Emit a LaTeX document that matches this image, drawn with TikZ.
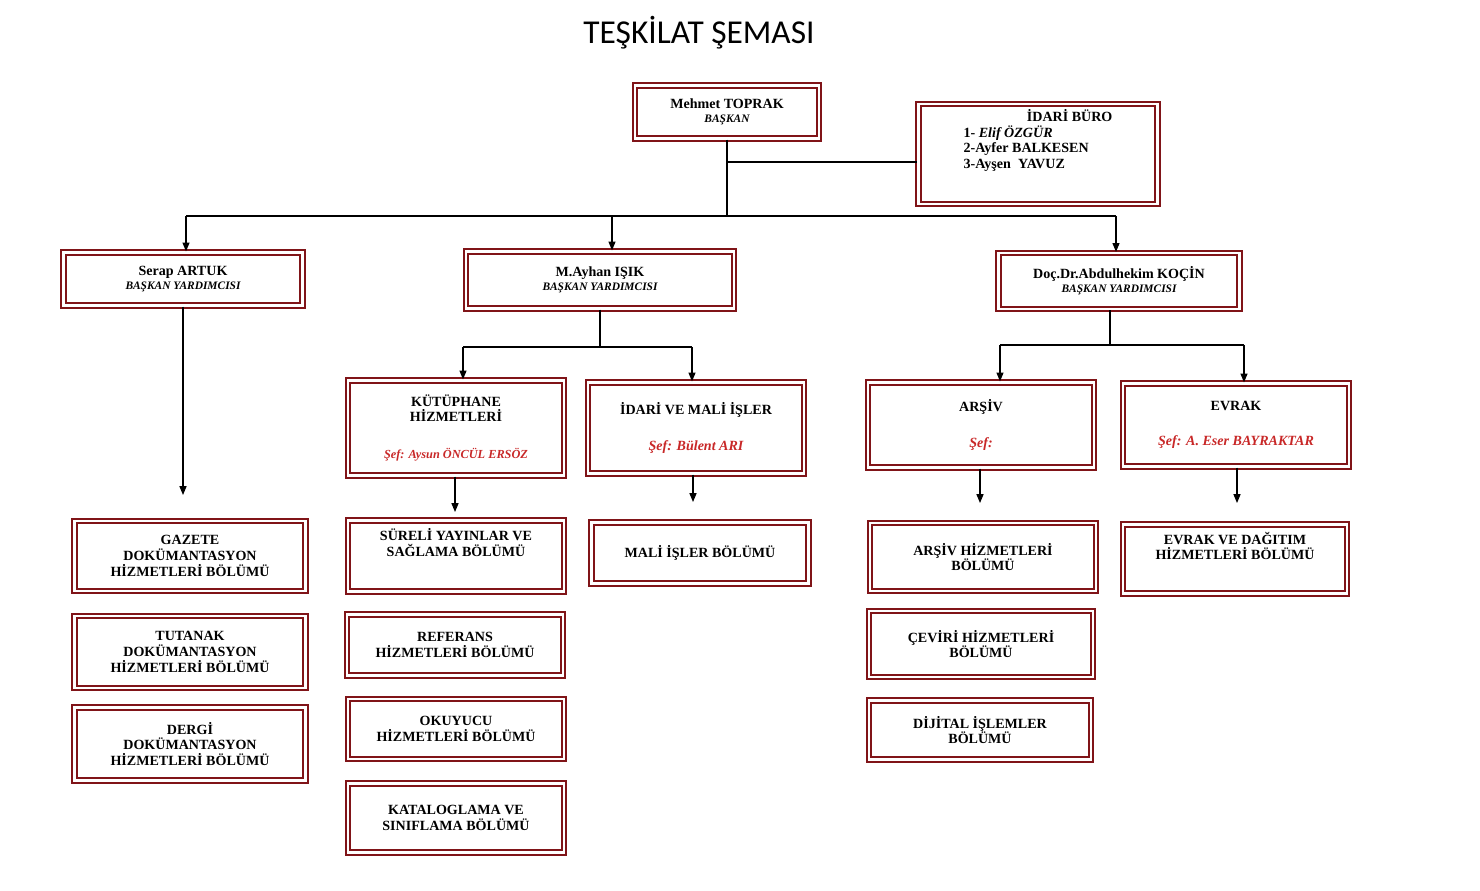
\documentclass[tikz,border=0pt]{standalone}
\usepackage{fontspec}
\setmainfont{Liberation Serif}
\newfontfamily\titlefont{Carlito}
\usetikzlibrary{arrows.meta}
\definecolor{boxred}{RGB}{128,20,24}
\definecolor{chefred}{RGB}{200,40,40}
\begin{document}
\begin{tikzpicture}[x=0.02cm, y=-0.02cm,
  box/.style = {draw=boxred, double=white, double distance=1.2pt, line width=1.3pt,
                inner sep=2pt, align=center, font=\fontsize{8}{9}\selectfont\bfseries},
  conn/.style = {line width=0.6pt},
  arr/.style = {conn, -{Triangle[length=5pt, width=4pt]}}]
  \useasboundingbox (0,0) rectangle (1480,891);
  \node[font=\titlefont\fontsize{19}{22}\selectfont] (title) at (699,33) {TEŞKİLAT ŞEMASI};

  % top level
  \node[box, minimum width=184*0.02cm, minimum height=53*0.02cm] (baskan) at (727,112)
    {Mehmet TOPRAK\\[-1pt]{\fontsize{6.5}{7}\selectfont\itshape BAŞKAN}};
  \node[box, minimum width=239*0.02cm, minimum height=100*0.02cm, align=left] (buro) at (1038,154)
    {\hspace*{4.5em}İDARİ BÜRO\\1- {\itshape Elif ÖZGÜR}\\2-Ayfer BALKESEN\\3-Ayşen\ \ YAVUZ\\[8pt]};
  \node[box, minimum width=239*0.02cm, minimum height=53*0.02cm] (artuk) at (183,279)
    {Serap ARTUK\\[-1pt]{\fontsize{6.5}{7}\selectfont\itshape BAŞKAN YARDIMCISI}};
  \node[box, minimum width=268*0.02cm, minimum height=57*0.02cm] (isik) at (600,280)
    {M.Ayhan IŞIK\\[-1pt]{\fontsize{6.5}{7}\selectfont\itshape BAŞKAN YARDIMCISI}};
  \node[box, minimum width=241*0.02cm, minimum height=56*0.02cm] (kocin) at (1119,281)
    {Doç.Dr.Abdulhekim KOÇİN\\[-1pt]{\fontsize{6.5}{7}\selectfont\itshape BAŞKAN YARDIMCISI}};

  % chiefs
  \node[box, minimum width=216*0.02cm, minimum height=95*0.02cm] (kutup) at (456,428)
    {KÜTÜPHANE\\HİZMETLERİ\\[12pt]\textcolor{chefred}{\fontsize{7}{8}\selectfont\itshape Şef: Aysun ÖNCÜL ERSÖZ}};
  \node[box, minimum width=216*0.02cm, minimum height=91*0.02cm] (idari) at (696,428)
    {İDARİ VE MALİ İŞLER\\[11pt]\textcolor{chefred}{\itshape Şef: Bülent ARI}};
  \node[box, minimum width=226*0.02cm, minimum height=85*0.02cm] (arsiv) at (981,425)
    {ARŞİV\\[11pt]\textcolor{chefred}{\itshape Şef:}};
  \node[box, minimum width=226*0.02cm, minimum height=83*0.02cm] (evrak) at (1236,425)
    {EVRAK\\[11pt]\textcolor{chefred}{\itshape Şef: A. Eser BAYRAKTAR}};

  % units
  \node[box, minimum width=231*0.02cm, minimum height=70*0.02cm] (gazete) at (190,556)
    {GAZETE\\DOKÜMANTASYON\\HİZMETLERİ BÖLÜMÜ};
  \node[box, minimum width=231*0.02cm, minimum height=72*0.02cm] (tutanak) at (190,652)
    {TUTANAK\\DOKÜMANTASYON\\HİZMETLERİ BÖLÜMÜ};
  \node[box, minimum width=231*0.02cm, minimum height=73*0.02cm] (dergi) at (190,744)
    {DERGİ\\DOKÜMANTASYON\\HİZMETLERİ BÖLÜMÜ};
  \node[box, minimum width=216*0.02cm, minimum height=71*0.02cm] (sureli) at (456,556)
    {SÜRELİ YAYINLAR VE\\SAĞLAMA BÖLÜMÜ\\[6pt]};
  \node[box, minimum width=216*0.02cm, minimum height=61*0.02cm] (referans) at (455,645)
    {REFERANS\\HİZMETLERİ BÖLÜMÜ};
  \node[box, minimum width=216*0.02cm, minimum height=60*0.02cm] (okuyucu) at (456,729)
    {OKUYUCU\\HİZMETLERİ BÖLÜMÜ};
  \node[box, minimum width=216*0.02cm, minimum height=69*0.02cm] (katalog) at (456,818)
    {KATALOGLAMA VE\\SINIFLAMA BÖLÜMÜ};
  \node[box, minimum width=217*0.02cm, minimum height=61*0.02cm] (mali) at (700,553)
    {MALİ İŞLER BÖLÜMÜ};
  \node[box, minimum width=226*0.02cm, minimum height=68*0.02cm] (arsivh) at (983,557)
    {ARŞİV HİZMETLERİ\\BÖLÜMÜ};
  \node[box, minimum width=224*0.02cm, minimum height=66*0.02cm] (ceviri) at (981,644)
    {ÇEVİRİ HİZMETLERİ\\BÖLÜMÜ};
  \node[box, minimum width=222*0.02cm, minimum height=59*0.02cm] (dijital) at (980,730)
    {DİJİTAL İŞLEMLER\\BÖLÜMÜ};
  \node[box, minimum width=224*0.02cm, minimum height=69*0.02cm] (dagitim) at (1235,559)
    {EVRAK VE DAĞITIM\\HİZMETLERİ BÖLÜMÜ\\[6pt]};

  % connectors
  \coordinate (top) at (727,216);
  \coordinate (buroin) at (727,162);
  \coordinate (mid) at (600,347);
  \coordinate (right) at (1110,345);
  \coordinate (artukend) at (183,495);
  \coordinate (kutupend) at (455,512);
  \coordinate (idariend) at (693,502);
  \coordinate (arsivend) at (980,503);
  \coordinate (evrakend) at (1237,503);
  \draw[conn] (baskan.south) -- (top);
  \draw[conn] (buroin) -- (buroin -| buro.west);
  \draw[conn] (186,216) -- (1116,216);
  \draw[arr] (186,216) -- (artuk.north -| 186,0);
  \draw[arr] (612,216) -- (isik.north -| 612,0);
  \draw[arr] (1116,216) -- (kocin.north -| 1116,0);
  \draw[conn] (isik.south) -- (mid);
  \draw[conn] (463,347) -- (692,347);
  \draw[arr] (463,347) -- (kutup.north -| 463,0);
  \draw[arr] (692,347) -- (idari.north -| 692,0);
  \draw[conn] (kocin.south -| right) -- (right);
  \draw[conn] (1000,345) -- (1244,345);
  \draw[arr] (1000,345) -- (arsiv.north -| 1000,0);
  \draw[arr] (1244,345) -- (evrak.north -| 1244,0);
  \draw[arr] (artuk.south) -- (artukend);
  \draw[arr] (kutup.south -| kutupend) -- (kutupend);
  \draw[arr] (idari.south -| idariend) -- (idariend);
  \draw[arr] (arsiv.south -| arsivend) -- (arsivend);
  \draw[arr] (evrak.south -| evrakend) -- (evrakend);
\end{tikzpicture}
\end{document}
